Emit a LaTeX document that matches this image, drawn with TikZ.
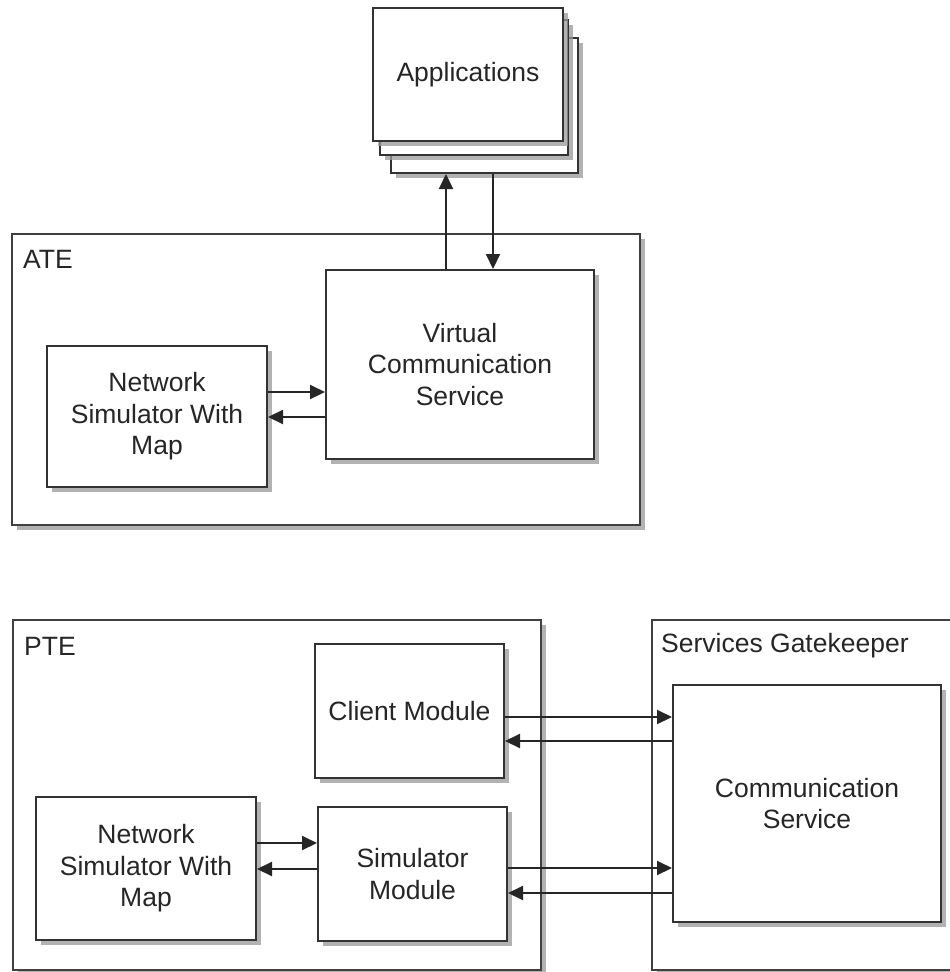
\documentclass[tikz,border=0pt]{standalone}
\usepackage{fontspec}
\setmainfont{Liberation Sans}
\usetikzlibrary{arrows.meta,shadows}
\begin{document}
\begin{tikzpicture}[x=1pt,y=-1pt,
  font=\fontsize{26.5}{31.5}\selectfont,
  every node/.style={text=black!85},
  shadowed/.style={drop shadow={shadow xshift=5pt,shadow yshift=-5pt,fill=black!40,opacity=0.75}},
  box/.style={draw=black!80,line width=2pt,fill=white,shadowed,align=center,inner sep=0pt,
    minimum width=#1},
  frame/.style={draw=black!75,line width=2pt,fill=white,shadowed},
  arr/.style={draw=black!85,line width=2pt,-{Triangle[length=15pt,width=14pt]}},
  lbl/.style={anchor=west,inner sep=0pt}]
\useasboundingbox (0,0) rectangle (950,972);
\fill[white] (0,0) rectangle (950,972);
\clip (0,0) rectangle (950,972);

% application stack
\node[box=187pt,minimum height=135pt] (appsB) at (484.5,105.5) {};
\node[box=188pt,minimum height=135pt] (appsM) at (474,87.5) {};
\node[box=190pt,minimum height=133pt] (apps) at (468,74.5) {Applications};

% ATE group
\draw[frame] (12,234) rectangle (640,525);
\node[lbl] (ate) at (23,259) {ATE};
\node[box=268pt,minimum height=189pt] (vcs) at (460,364.5) {Virtual\\Communication\\Service};
\node[box=220pt,minimum height=141pt] (nsw1) at (157,416.5) {Network\\Simulator With\\Map};

\draw[arr] (vcs.north -| 446,0) -- (appsB.south -| 446,0);
\draw[arr] (appsB.south -| 493,0) -- (vcs.north -| 493,0);
\draw[arr] (nsw1.east |- 0,392) -- (vcs.west |- 0,392);
\draw[arr] (vcs.west |- 0,417) -- (nsw1.east |- 0,417);

% PTE group
\draw[frame] (13,620) rectangle (541,970);
\node[lbl] (pte) at (24,646) {PTE};
\node[box=189pt,minimum height=134pt] (cm) at (409.5,711) {Client Module};
\node[box=220pt,minimum height=143pt] (nsw2) at (146,868.5) {Network\\Simulator With\\Map};
\node[box=189pt,minimum height=134pt] (sm) at (412.5,874) {Simulator\\Module};

% Services Gatekeeper group
\draw[frame] (652,620) rectangle (970,970);
\node[lbl] (sg) at (661,646) {Services Gatekeeper};
\node[box=268pt,minimum height=237pt] (cs) at (807,803.5) {Communication\\Service};

\draw[arr] (cm.east |- 0,717) -- (cs.west |- 0,717);
\draw[arr] (cs.west |- 0,741) -- (cm.east |- 0,741);
\draw[arr] (sm.east |- 0,868) -- (cs.west |- 0,868);
\draw[arr] (cs.west |- 0,893) -- (sm.east |- 0,893);
\draw[arr] (nsw2.east |- 0,843) -- (sm.west |- 0,843);
\draw[arr] (sm.west |- 0,869) -- (nsw2.east |- 0,869);
\end{tikzpicture}
\end{document}
